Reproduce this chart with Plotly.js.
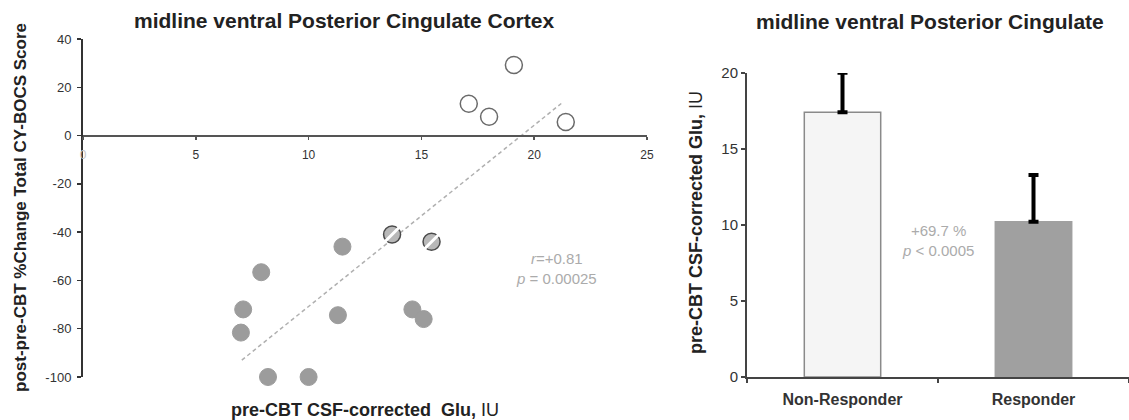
<!DOCTYPE html>
<html>
<head>
<meta charset="utf-8">
<script src="https://cdn.plot.ly/plotly-3.0.1.min.js"></script>
<style>html,body{margin:0;padding:0;background:#fff;}#chart{width:1129px;height:420px;}</style>
</head>
<body>
<div id="chart"></div>
<script>
// ---- Data ----
const nonRespX = [17.1, 18.0, 19.1, 21.4];
const nonRespY = [13.2, 7.8, 29.2, 5.6];
const partialX = [13.7, 15.45];
const partialY = [-41, -44];
const respX = [11.5, 7.9, 7.1, 7.0, 8.2, 10.0, 11.3, 14.6, 15.1];
const respY = [-46, -56.6, -72, -81.6, -100, -100, -74.4, -72, -76];
const fitX = [7.04, 21.2];
const fitY = [-93, 13.3];

const scatterXTicks = [0, 5, 10, 15, 20, 25];
const scatterXTickText = ['<span style="color:#c4c4c4">0</span>', '5', '10', '15', '20', '25'];
const scatterYTicks = [40, 20, 0, -20, -40, -60, -80, -100];
const scatterYTickText = ['40', '20', '0', '-20', '-40', '-60', '-80', '-100'];

const groups = ['Non-Responder', 'Responder'];
const groupMeans = [17.42, 10.22];
const groupErrUp = [2.6, 3.07];
const barYTicks = [0, 5, 10, 15, 20];

// ---- Layout helpers ----
const W = 1129, H = 420;
const px = v => v / W;
const py = v => 1 - v / H;
const FONT = 'Liberation Sans, Arial, sans-serif';

const yDomL = [py(377), py(39)];
const yRangeL = [-100, 40];
const xAxisPosL = yDomL[0] + (yDomL[1] - yDomL[0]) * (0 - yRangeL[0]) / (yRangeL[1] - yRangeL[0]);

const traces = [
  {x: fitX, y: fitY, mode: 'lines', type: 'scatter', xaxis: 'x', yaxis: 'y', cliponaxis: false,
   line: {color: '#b0b0b0', width: 1.5, dash: '4px,3px'}, hoverinfo: 'skip'},
  {x: respX, y: respY, mode: 'markers', type: 'scatter', xaxis: 'x', yaxis: 'y', name: 'Responder', cliponaxis: false,
   marker: {size: 17, color: '#9c9c9c', line: {color: '#9c9c9c', width: 1}}},
  {x: nonRespX, y: nonRespY, mode: 'markers', type: 'scatter', xaxis: 'x', yaxis: 'y', name: 'Non-Responder', cliponaxis: false,
   marker: {size: 17, color: '#ffffff', line: {color: '#6a6a6a', width: 1.5}}},
  {x: partialX, y: partialY, mode: 'markers', type: 'scatter', xaxis: 'x', yaxis: 'y', name: 'Partial', cliponaxis: false,
   marker: {size: 17, color: '#b8b8b8', line: {color: '#4a4a4a', width: 1.5}}},
  {x: partialX, y: partialY, mode: 'markers', type: 'scatter', xaxis: 'x', yaxis: 'y', hoverinfo: 'skip', cliponaxis: false,
   marker: {size: 15, symbol: 'line-ne', color: '#ffffff', line: {color: '#ffffff', width: 3}}},
  {x: groups, y: groupMeans, type: 'bar', xaxis: 'x2', yaxis: 'y2', width: 0.4,
   marker: {color: ['#f5f5f5', '#a0a0a0'], line: {color: ['#8a8a8a', '#a0a0a0'], width: 1.5}},
   error_y: {type: 'data', symmetric: false, array: groupErrUp, arrayminus: [0, 0],
             color: '#000000', thickness: 4, width: 5}}
];

const layout = {
  width: W, height: H,
  margin: {l: 0, r: 0, t: 0, b: 0},
  paper_bgcolor: '#ffffff', plot_bgcolor: 'rgba(0,0,0,0)',
  showlegend: false,
  font: {family: FONT, color: '#333'},
  xaxis: {
    domain: [px(83), px(647)], range: [0, 25], anchor: 'free', position: xAxisPosL,
    tickvals: scatterXTicks, ticktext: scatterXTickText,
    showline: true, linecolor: '#555', linewidth: 2, ticks: 'outside', ticklen: 3, tickwidth: 1.5, tickcolor: '#555',
    tickfont: {size: 12, color: '#333'}, ticklabelstandoff: 5,
    showgrid: false, zeroline: false
  },
  yaxis: {
    domain: yDomL, range: yRangeL, anchor: 'x',
    tickvals: scatterYTicks, ticktext: scatterYTickText,
    showline: true, linecolor: '#333', linewidth: 2, ticks: 'outside', ticklen: 4, tickwidth: 1.5, tickcolor: '#333',
    tickfont: {size: 13, color: '#333'}, ticklabelstandoff: 3,
    showgrid: false, zeroline: false
  },
  xaxis2: {
    domain: [px(747), 1], range: [-0.5, 1.5], anchor: 'y2', type: 'category',
    showline: true, linecolor: '#444', linewidth: 2, ticks: 'outside', ticklen: 4, tickwidth: 1.5, tickcolor: '#444',
    tickson: 'boundaries',
    tickfont: {size: 16, color: '#333', weight: 'bold'}, ticklabelstandoff: 7,
    showgrid: false, zeroline: false
  },
  yaxis2: {
    domain: [py(377), py(73)], range: [0, 20], anchor: 'x2',
    tickvals: barYTicks,
    showline: true, linecolor: '#444', linewidth: 2, ticks: 'outside', ticklen: 4, tickwidth: 1.5, tickcolor: '#444',
    tickfont: {size: 15, color: '#333'},
    showgrid: false, zeroline: false
  },
  annotations: [
    {xref: 'paper', yref: 'paper', x: px(344), y: py(20), xanchor: 'center', yanchor: 'middle', showarrow: false,
     text: '<b>midline ventral Posterior Cingulate Cortex</b>', font: {size: 21, color: '#222'}},
    {xref: 'paper', yref: 'paper', x: px(930), y: py(21), xanchor: 'center', yanchor: 'middle', showarrow: false,
     text: '<b>midline ventral Posterior Cingulate</b>', font: {size: 21, color: '#222'}},
    {xref: 'paper', yref: 'paper', x: px(20), y: py(208), xanchor: 'center', yanchor: 'middle', showarrow: false,
     textangle: -90, text: '<b>post-pre-CBT %Change Total CY-BOCS Score</b>', font: {size: 17, color: '#222'}},
    {xref: 'paper', yref: 'paper', x: px(365), y: py(410), xanchor: 'center', yanchor: 'middle', showarrow: false,
     text: '<b>pre-CBT CSF-corrected&nbsp; Glu,</b> IU', font: {size: 18, color: '#222'}},
    {xref: 'paper', yref: 'paper', x: px(696), y: py(223), xanchor: 'center', yanchor: 'middle', showarrow: false,
     textangle: -90, text: '<b>pre-CBT CSF-corrected Glu,</b> IU', font: {size: 18, color: '#222'}},
    {xref: 'x', yref: 'y', x: 20.97, y: -55.2, xanchor: 'center', yanchor: 'middle', showarrow: false,
     text: '<i>r</i>=+0.81<br><i>p</i> = 0.00025', font: {size: 15, color: '#ababab'}},
    {xref: 'x2', yref: 'y2', x: 0.5, y: 8.95, xanchor: 'center', yanchor: 'middle', showarrow: false,
     text: '+69.7 %<br><i>p</i> &lt; 0.0005', font: {size: 15, color: '#ababab'}}
  ]
};

Plotly.newPlot('chart', traces, layout, {staticPlot: true, displayModeBar: false});
</script>
</body>
</html>
